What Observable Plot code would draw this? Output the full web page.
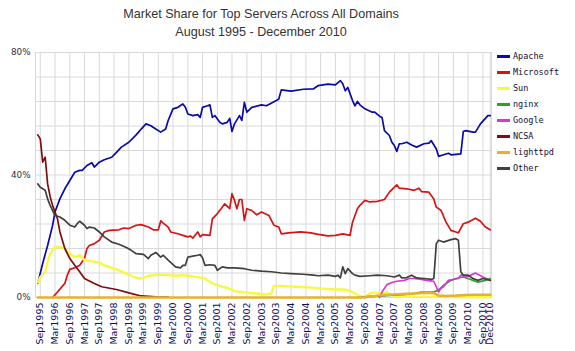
<!DOCTYPE html>
<html>
<head>
<meta charset="utf-8">
<script src="https://cdn.jsdelivr.net/npm/d3@7"></script>
<script src="https://cdn.jsdelivr.net/npm/@observablehq/plot@0.6"></script>
<style>
  body { margin: 0; background: #fff; }
  #wrap { position: relative; width: 575px; height: 351px; overflow: hidden; }
  #title { width: 522px; height: 40px; box-sizing: border-box; padding-top: 5px; text-align: center;
           font-family: "Liberation Sans", Arial, sans-serif; font-size: 12.6px; color: #333; }
  #title div { line-height: 18px; }
  #legend { position: absolute; left: 497px; top: 48px; }
  #legend .row { height: 16px; display: flex; align-items: center; }
  #legend .sw { width: 13px; height: 3px; }
  #legend .lb { margin-left: 3px; font-family: "DejaVu Sans Mono", monospace; font-size: 8.5px; color: #101038; }
</style>
</head>
<body>
<div id="wrap">
  <div id="title"><div>Market Share for Top Servers Across All Domains</div><div>August 1995 - December 2010</div></div>
  <div id="chart"></div>
  <div id="legend"></div>
</div>
<script>
const seriesNames = ["Apache","Microsoft","Sun","nginx","Google","NCSA","lighttpd","Other"];
const seriesColors = ["#0a0aa8","#d41414","#f8f840","#2ea02e","#d23ad2","#7e0e0e","#e8b030","#404040"];
const xTickLabels = ["Sep1995","Mar1996","Sep1996","Mar1997","Sep1997","Mar1998","Sep1998","Mar1999","Sep1999","Mar2000","Sep2000","Mar2001","Sep2001","Mar2002","Sep2002","Mar2003","Sep2003","Mar2004","Sep2004","Mar2005","Sep2005","Mar2006","Sep2006","Mar2007","Sep2007","Mar2008","Sep2008","Mar2009","Sep2009","Mar2010","Sep2010","Dec2010"];
const yTicks = [0, 40, 80];
const yGrid = [0, 8, 16, 24, 32, 40, 48, 56, 64, 72, 80];

const apache = [["1995-08",4.6],["1995-10",11.1],["1995-12",17],["1996-02",23.6],["1996-03",27.9],["1996-05",32.2],["1996-07",35.5],["1996-09",38.2],["1996-11",40.9],["1997-01",41.5],["1997-02",41.5],["1997-04",43.1],["1997-06",44],["1997-07",42.6],["1997-09",44.2],["1997-11",45],["1998-02",45.8],["1998-04",47.4],["1998-06",49.1],["1998-09",50.7],["1998-12",53.1],["1999-02",55],["1999-04",56.7],["1999-06",56.1],["1999-08",55],["1999-10",54],["1999-12",55],["2000-01",57.8],["2000-03",61.6],["2000-05",62.1],["2000-07",63.2],["2000-08",62.1],["2000-09",59.9],["2000-11",59.4],["2001-01",59.7],["2001-02",58.8],["2001-03",62.1],["2001-05",62.6],["2001-06",62.9],["2001-07",58.8],["2001-08",59.4],["2001-10",57.2],["2001-11",56.7],["2002-01",57.2],["2002-02",58.5],["2002-03",54.2],["2002-04",56.7],["2002-06",59.4],["2002-07",57.8],["2002-08",63.7],["2002-09",60.5],["2002-11",62.1],["2003-03",62.9],["2003-05",62.6],["2003-09",64.3],["2003-10",64.8],["2003-11",67.8],["2004-03",67.4],["2004-08",68],["2004-12",68.1],["2005-02",69.2],["2005-06",69.7],["2005-09",69.4],["2005-11",70.8],["2005-12",69.8],["2006-01",67.5],["2006-02",68.6],["2006-04",64.3],["2006-05",62.6],["2006-06",64.0],["2006-07",62.9],["2006-09",61.6],["2006-12",60.5],["2007-01",60.5],["2007-03",59.2],["2007-04",58.8],["2007-05",54.5],["2007-07",52.9],["2007-08",50.7],["2007-09",49.6],["2007-10",47.7],["2007-11",50.2],["2007-12",50.2],["2008-02",50.7],["2008-04",49.8],["2008-06",49.1],["2008-09",50.2],["2008-11",50.4],["2008-12",51.2],["2009-02",48.5],["2009-03",46.1],["2009-05",46.6],["2009-07",47.1],["2009-08",46.6],["2009-12",46.9],["2010-01",54.2],["2010-02",54.5],["2010-05",54],["2010-06",54],["2010-08",56.7],["2010-11",59.4],["2010-12",59.4]];

const microsoft = [["1996-02",0],["1996-04",1.8],["1996-07",4.6],["1996-08",7.3],["1996-09",9.2],["1996-11",9.7],["1997-01",10.5],["1997-03",12.7],["1997-04",16],["1997-05",17],["1997-07",17.6],["1997-09",18.7],["1997-11",21.4],["1998-01",21.9],["1998-05",22.1],["1998-07",22.7],["1998-09",22.5],["1998-12",23.6],["1999-02",23.8],["1999-05",23],["1999-07",22.1],["1999-09",22.1],["1999-10",25],["1999-11",24.3],["2000-01",23],["2000-02",21.4],["2000-05",20.8],["2000-07",20.3],["2000-09",19.8],["2000-10",20.1],["2000-11",19.4],["2001-01",21.4],["2001-02",19.8],["2001-03",20.5],["2001-06",20.3],["2001-07",25.7],["2001-09",27.4],["2001-11",29.5],["2001-12",30.6],["2002-02",29],["2002-03",33.9],["2002-04",31.7],["2002-05",29],["2002-06",32],["2002-07",32],["2002-08",25.2],["2002-09",29],["2002-11",28.4],["2003-01",27],["2003-03",27.9],["2003-06",26.8],["2003-08",23.6],["2003-10",23],["2003-11",20.8],["2004-02",21.1],["2004-07",21.4],["2004-11",21.1],["2005-02",20.6],["2005-06",20.1],["2005-09",20.3],["2005-12",20.8],["2006-03",20.3],["2006-04",24.6],["2006-05",26.8],["2006-06",29],["2006-07",30.1],["2006-09",31.7],["2006-11",31.2],["2007-02",31.4],["2007-05",32],["2007-07",34.4],["2007-10",36.8],["2007-11",35.7],["2008-02",35.5],["2008-05",35],["2008-07",35.7],["2008-08",34.6],["2008-11",34.4],["2009-01",32.2],["2009-02",29.5],["2009-04",28.4],["2009-06",24.6],["2009-08",21.9],["2009-10",21.4],["2009-11",21.1],["2010-01",24.1],["2010-03",24.6],["2010-06",25.9],["2010-08",24.9],["2010-10",23],["2010-12",22.1]];

const sun = [["1995-08",4.9],["1995-09",6.7],["1995-11",8.4],["1995-12",11.6],["1996-01",14.3],["1996-03",16.5],["1996-05",16.5],["1996-07",16],["1996-09",14.3],["1996-11",13.2],["1997-01",13.8],["1997-03",12.2],["1997-06",11.8],["1997-09",11.4],["1997-11",10.5],["1998-02",9.7],["1998-05",8.9],["1998-08",7.8],["1998-10",7.1],["1999-01",6.2],["1999-03",6.4],["1999-05",7.1],["1999-08",7.3],["1999-11",7.5],["2000-01",7.3],["2000-04",7.1],["2000-07",7.3],["2000-09",7.1],["2000-11",6.9],["2001-02",6.5],["2001-04",6.2],["2001-07",4.6],["2001-10",3.8],["2002-02",2.9],["2002-04",2.1],["2002-09",1.6],["2003-01",1.3],["2003-05",1],["2003-07",1.3],["2003-08",3.8],["2003-11",3.8],["2004-05",3.5],["2004-10",3.3],["2005-04",2.9],["2005-09",2.6],["2006-01",2.6],["2006-03",2.2],["2006-05",1.3],["2006-07",0.5],["2006-09",0.2],["2006-11",1.3],["2006-12",1.6],["2007-02",1.6],["2007-04",1.3],["2007-06",1.8],["2007-07",1.3],["2007-09",0.5],["2007-11",0.2],["2008-12",0.2],["2010-12",0.1]];

const nginx = [["2006-06",0],["2006-11",0.3],["2007-04",0.5],["2007-09",0.8],["2008-02",1.0],["2008-05",1.3],["2008-08",1.8],["2009-01",1.8],["2009-03",2.4],["2009-05",4],["2009-08",5.6],["2009-10",6.2],["2010-01",6.7],["2010-03",6.2],["2010-05",5.6],["2010-07",5],["2010-10",5.6],["2010-12",6.2]];

const google = [["2007-03",0],["2007-04",1.8],["2007-06",4.2],["2007-08",4.9],["2007-10",5.3],["2008-01",5.6],["2008-03",6.2],["2008-05",6.2],["2008-08",5.9],["2008-10",5.6],["2009-01",5.3],["2009-03",1.8],["2009-04",3],["2009-05",3.5],["2009-07",5.6],["2009-11",6.2],["2009-12",7.3],["2010-03",6.9],["2010-06",8],["2010-09",6.7],["2010-12",5.6]];

const ncsa = [["1995-08",53.1],["1995-09",51.8],["1995-10",44.2],["1995-11",45.8],["1995-12",37.1],["1996-01",33],["1996-02",30],["1996-04",25.7],["1996-05",21.4],["1996-07",16],["1996-09",12.7],["1996-11",10.5],["1997-01",8.4],["1997-03",6.2],["1997-07",4.6],["1997-10",3.5],["1998-04",2.6],["1998-09",1.5],["1999-02",0.5],["1999-08",0.2],["2000-01",0.1]];

const lighttpd = [["1995-08",0],["2006-09",0],["2006-10",0.3],["2007-01",0.5],["2007-04",0.8],["2007-09",1.0],["2008-02",1.2],["2008-07",1.4],["2008-10",1.6],["2009-01",1.4],["2009-03",0.6],["2009-06",0.5],["2009-10",0.6],["2010-02",0.8],["2010-06",0.9],["2010-12",0.9]];

const other = [["1995-08",37.1],["1995-09",36],["1995-11",35],["1995-12",32.2],["1996-01",30.1],["1996-03",26.8],["1996-05",26.3],["1996-07",25.2],["1996-09",23.6],["1996-11",23],["1996-12",24.1],["1997-01",24.9],["1997-03",23.6],["1997-04",22.5],["1997-05",23],["1997-07",22.7],["1997-09",21.4],["1997-11",19.8],["1998-02",18.1],["1998-05",17.4],["1998-08",16.3],["1998-10",15.4],["1998-12",14.3],["1999-03",14.1],["1999-05",12.7],["1999-06",13.8],["1999-08",14.7],["1999-10",13.2],["1999-11",13.8],["2000-01",12.2],["2000-04",10],["2000-06",9.7],["2000-07",10.5],["2000-08",10.5],["2000-09",13.2],["2000-11",13.5],["2001-01",13.8],["2001-02",14],["2001-03",13],["2001-04",10.5],["2001-06",10.7],["2001-08",10.5],["2001-09",8.9],["2001-11",10],["2002-01",9.7],["2002-04",9.7],["2002-08",9.4],["2002-11",8.9],["2003-03",8.6],["2003-07",8.4],["2003-11",8],["2004-03",7.8],["2004-08",7.6],["2004-12",7.3],["2005-02",7.1],["2005-06",7.3],["2005-09",6.9],["2005-10",7.3],["2005-11",6.4],["2005-12",10],["2006-01",7.8],["2006-02",9.4],["2006-04",7.8],["2006-05",7.3],["2006-07",6.9],["2006-11",7.1],["2007-02",7.3],["2007-06",7.1],["2007-09",6.7],["2007-11",7.3],["2007-12",6.4],["2008-02",6.5],["2008-04",7.3],["2008-06",6.4],["2008-09",6.2],["2008-12",5.9],["2009-01",6.2],["2009-02",17.6],["2009-03",18.7],["2009-05",18.1],["2009-08",18.9],["2009-10",19.2],["2009-11",18.7],["2009-12",8.4],["2010-01",7.3],["2010-03",7.3],["2010-05",6.2],["2010-07",5.6],["2010-09",6.2],["2010-12",5.6]];

const seriesData = [apache, microsoft, sun, nginx, google, ncsa, lighttpd, other];
const seriesWidths = [1.7, 1.7, 2.4, 1.7, 1.7, 1.7, 2.6, 1.7];

const parseMonth = d3.timeParse("%Y-%m");
const parseTick = d3.timeParse("%b%Y");
const tickDates = xTickLabels.map(parseTick);

const lineMarks = seriesData.map((arr, i) =>
  Plot.line(arr.map(([d, v]) => ({date: parseMonth(d), value: v})), {
    x: "date", y: "value", stroke: seriesColors[i], strokeWidth: seriesWidths[i]
  })
);

const chart = Plot.plot({
  width: 575,
  height: 311,
  marginLeft: 35,
  marginRight: 84,
  marginTop: 12,
  marginBottom: 54,
  style: {fontFamily: "DejaVu Sans, Verdana, sans-serif", background: "#fff"},
  x: {type: "time", domain: [new Date(1995, 6, 4), new Date(2010, 11, 16)]},
  y: {domain: [0, 80]},
  marks: [
    Plot.ruleY(yGrid, {stroke: "#d9d9d9", strokeWidth: 1}),
    Plot.ruleX(tickDates, {stroke: "#d9d9d9", strokeWidth: 1}),
    Plot.frame({stroke: "#d9d9d9"}),
    ...lineMarks,
    Plot.axisX(tickDates, {
      tickFormat: (d, i) => xTickLabels[i], tickRotate: -90, tickSize: 0, tickPadding: 5,
      fontSize: 9.5, fill: "#0e1060", label: null
    }),
    Plot.axisY(yTicks, {
      tickFormat: d => d + "%", tickSize: 0, tickPadding: 5, fontSize: 8.8, fill: "#303040", label: null
    })
  ]
});
document.getElementById("chart").appendChild(chart);

const legend = document.getElementById("legend");
seriesNames.forEach((name, i) => {
  const row = document.createElement("div");
  row.className = "row";
  const sw = document.createElement("div");
  sw.className = "sw";
  sw.style.background = seriesColors[i];
  const lb = document.createElement("div");
  lb.className = "lb";
  lb.textContent = name;
  row.appendChild(sw); row.appendChild(lb);
  legend.appendChild(row);
});
</script>
</body>
</html>
